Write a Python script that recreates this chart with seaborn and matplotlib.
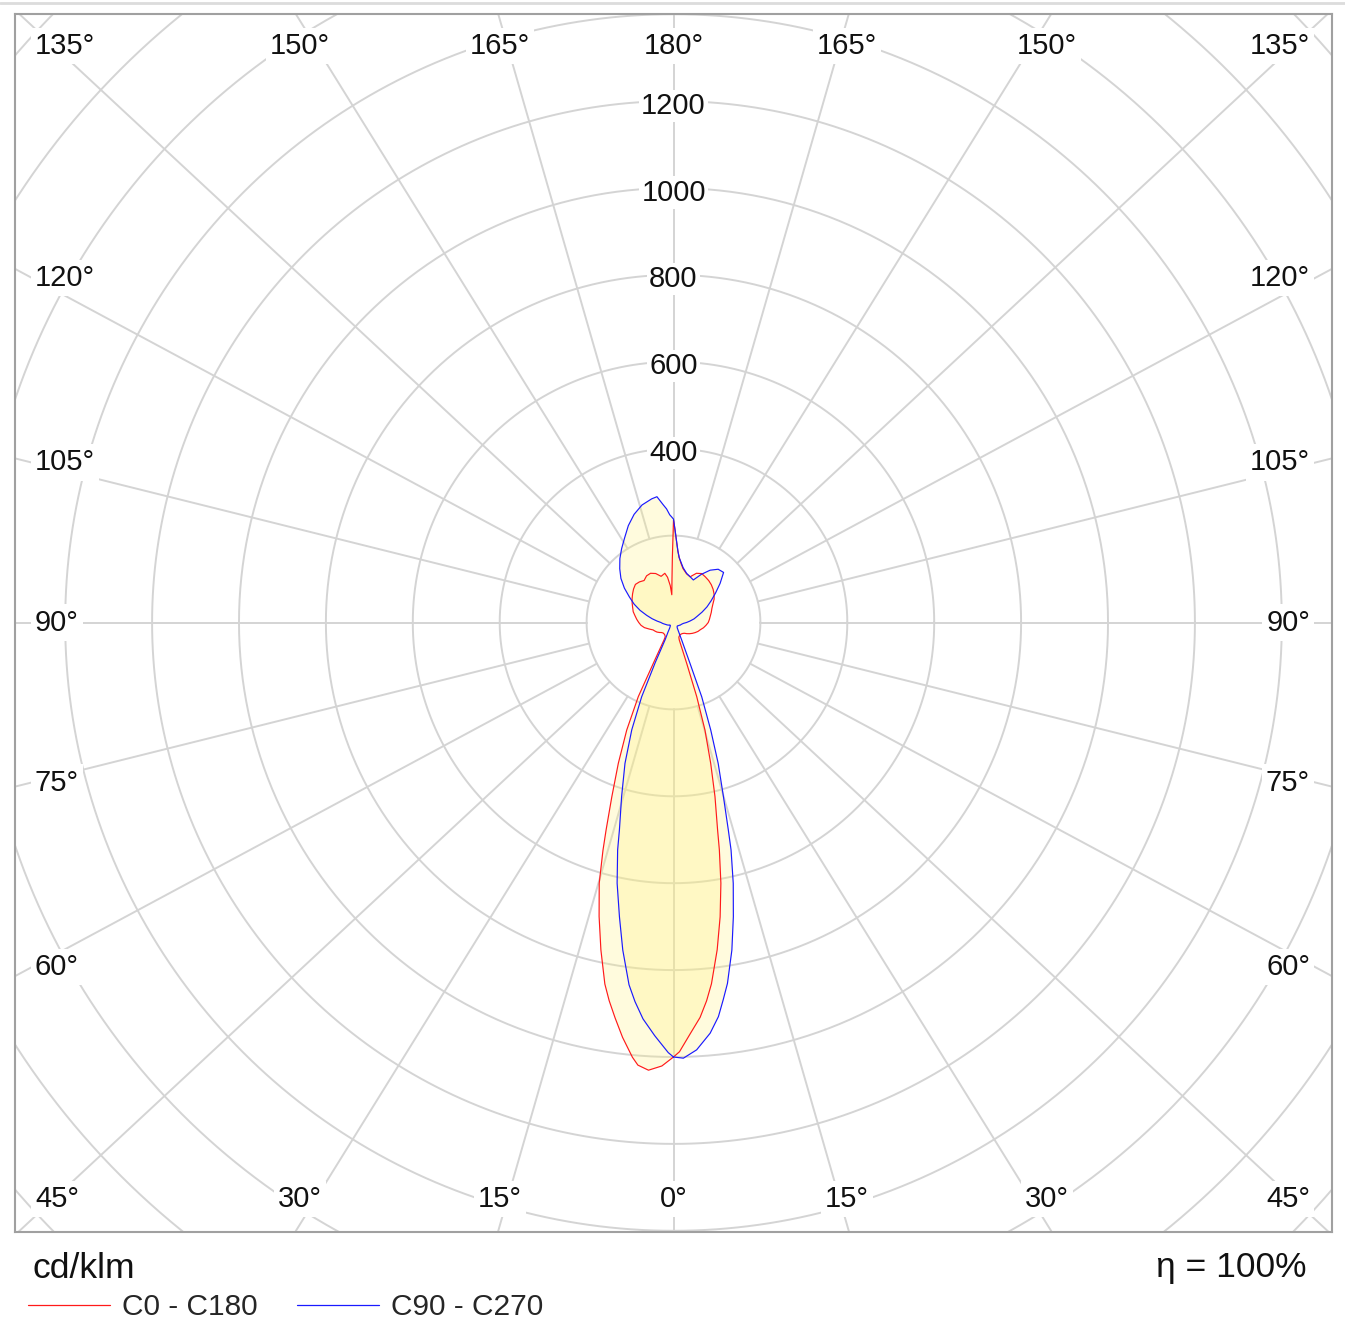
import numpy as np
import pandas as pd
import seaborn as sns
import matplotlib
matplotlib.use("Agg")
import matplotlib.pyplot as plt
from matplotlib.lines import Line2D
from matplotlib.transforms import ScaledTranslation

# Luminous intensity (cd/klm) per gamma angle
# C0 plane (right half of the red curve)
c0_gamma = [0, 0.8, 2.3, 3.85, 5.0, 6.0, 7.6, 9.0, 10.3, 11.4, 12.0, 13.4, 14.8, 16.3,
            17.4, 17.9, 18.3, 20, 25, 30, 35, 40, 45, 50, 55, 60, 65, 70, 75, 80, 85,
            90, 95, 100, 105, 110, 115, 120, 125, 130, 135, 140, 145, 150, 155, 160,
            165, 170, 172.5, 175, 176.5, 178, 179, 180]
c0 = [1000, 988, 948, 911, 874, 836, 760, 686, 610, 534, 488, 412, 335, 258,
      179, 99, 42, 36, 33, 32, 32, 33, 35, 40, 45, 50, 55, 60, 64, 70, 75,
      80, 83, 86, 90, 94, 100, 108, 114, 119, 123, 126, 128, 130, 125, 112,
      116, 126, 136, 150, 165, 190, 212, 236]

# C180 plane (left half of the red curve)
c180_gamma = [0, 1.5, 3.2, 4.6, 5.4, 7.0, 8.4, 9.65, 10.75, 12.5, 14.2, 15.9, 17.2, 18.0,
              19.5, 21.4, 23.5, 25.4, 26.3, 28.5, 30, 35, 40, 45, 50, 55, 60, 65, 70,
              75, 80, 85, 90, 95, 100, 105, 110, 115, 120, 125, 130, 135, 140, 145,
              150, 155, 160, 165, 170, 172.5, 175, 176.5, 178, 179, 180]
c180 = [1000, 1021, 1032, 1022, 1005, 962, 920, 883, 847, 772, 698, 624, 549, 502,
        425, 348, 270, 189, 105, 46, 38, 35, 34, 34, 36, 40, 44, 47, 50,
        58, 68, 75, 80, 85, 90, 96, 100, 105, 110, 115, 120, 124, 122, 118,
        124, 125, 120, 110, 115, 105, 85, 64, 100, 150, 236]

# C90 plane (right half of the blue curve)
c90_gamma = [0, 1.3, 3.1, 5.1, 6.5, 7.5, 8.5, 10.1, 11.5, 12.9, 14.2, 14.8, 16.0, 17.6,
             19.1, 20.8, 22.0, 25.1, 30, 35, 40, 45, 50, 55, 60, 65, 70, 75, 80, 85,
             90, 95, 100, 105, 110, 115, 120, 125, 130, 135, 140, 145, 150, 155, 160,
             165, 170, 172.5, 175, 176.5, 178, 179, 180]
c90 = [1000, 1003, 985, 949, 913, 876, 840, 766, 691, 616, 540, 494, 417, 340,
       262, 183, 101, 44, 22, 15, 13, 12, 12, 13, 14, 15, 17, 18, 20, 23,
       30, 38, 48, 57, 70, 85, 100, 118, 140, 163, 160, 147, 128, 108, 112,
       117, 128, 138, 150, 165, 190, 212, 238]

# C270 plane (left half of the blue curve)
c270_gamma = [0, 0.7, 2.6, 4.4, 5.8, 7.0, 8.8, 10.4, 12.2, 13.8, 14.6, 16.6, 19.0, 21.25,
              23.2, 24.5, 26, 30, 35, 40, 45, 50, 55, 60, 65, 70, 75, 80, 85, 90, 95,
              100, 105, 110, 115, 120, 125, 130, 135, 140, 145, 150, 155, 160, 165,
              170, 172.5, 175, 176.5, 178, 179, 180]
c270 = [1000, 990, 952, 915, 877, 840, 763, 689, 614, 539, 494, 418, 343, 265,
        186, 102, 43, 25, 15, 12, 10, 10, 10, 12, 14, 16, 18, 21, 25, 29, 38,
        50, 64, 82, 100, 117, 138, 158, 175, 192, 208, 225, 246, 265, 280,
        289, 292, 272, 262, 248, 243, 238]

series_names = ["C0 - C180", "C90 - C270"]
series_colors = ["#ff1a1a", "#1a1aff"]
ring_values = list(range(200, 2001, 200))
ring_labels = [400, 600, 800, 1000, 1200]
angle_ticks = list(range(0, 181, 15))
unit_label = "cd/klm"
efficiency_label = "η = 100%"

sns.set_style("white")
plt.rcParams["font.family"] = ["Liberation Sans", "DejaVu Sans"]

W_PX, H_PX = 1345, 1342
fig = plt.figure(figsize=(W_PX / 100, H_PX / 100), dpi=100)
ax = fig.add_axes([15 / W_PX, 1 - 1232 / H_PX, 1317 / W_PX, 1218 / H_PX])
ax.set_xlim(-1515.5, 1515.5)
ax.set_ylim(-1402.8, 1400.5)

grid_c = "#d4d4d4"
# rings
t = np.linspace(0, 2 * np.pi, 721)
for r in ring_values:
    ax.plot(r * np.cos(t), r * np.sin(t), color=grid_c, lw=1.4, zorder=1)

# spokes (drawn slightly stretched horizontally, as in the original)
k = 1.075
for a in range(0, 360, 15):
    ar = np.radians(a)
    d = np.array([k * np.sin(ar), -np.cos(ar)])
    d = d / np.hypot(*d)
    ax.plot([200 * d[0], 3000 * d[0]], [200 * d[1], 3000 * d[1]],
            color=grid_c, lw=1.4, zorder=1)


def loop(g_right, right, g_left, left):
    gr = np.radians(g_right)
    gl = np.radians(g_left)
    r = np.asarray(right, float)
    l = np.asarray(left, float)
    x = np.concatenate([r * np.sin(gr), -(l * np.sin(gl))[::-1]])
    y = np.concatenate([-r * np.cos(gr), (-l * np.cos(gl))[::-1]])
    return x, y


planes = [(c0_gamma, c0, c180_gamma, c180), (c90_gamma, c90, c270_gamma, c270)]
frames = []
for name, p in zip(series_names, planes):
    x, y = loop(*p)
    ax.fill(x, y, color="#fff07a", alpha=0.25, lw=0, zorder=2)
    frames.append(pd.DataFrame({"x": x, "y": y, "plane": name}))
df = pd.concat(frames, ignore_index=True)

sns.lineplot(data=df, x="x", y="y", hue="plane", palette=series_colors,
             sort=False, estimator=None, lw=0.85, legend=False, ax=ax, zorder=3)

# ring labels on the vertical axis
ring_tr = ax.transData + ScaledTranslation(0, -4.5 / 100, fig.dpi_scale_trans)
for r in ring_labels:
    ax.text(0, r, str(r), ha="center", va="center", fontsize=21, color="#111111",
            transform=ring_tr,
            bbox=dict(fc="white", ec="none", pad=1.5), zorder=4)

# angle labels around the frame
W, H = 1478, 1385
top_y, bot_y = 1326.8, -1326.8
left_x, right_x = -1469.5, 1465
for a in angle_ticks:
    for s in ([1] if a in (0, 180) else [-1, 1]):
        ar = np.radians(a)
        dx, dy = s * k * np.sin(ar), -np.cos(ar)
        tx = W / abs(dx) if abs(dx) > 1e-9 else np.inf
        ty = H / abs(dy) if abs(dy) > 1e-9 else np.inf
        lab = f"{a}°"
        kw = dict(fontsize=21, color="#111111", va="center", zorder=4,
                  bbox=dict(fc="white", ec="none", pad=3))
        if ty <= tx:
            ax.text(ty * dx, top_y if dy > 0 else bot_y, lab, ha="center", **kw)
        else:
            yy = min(max(tx * dy, bot_y), top_y)
            if dx < 0:
                ax.text(left_x, yy, lab, ha="left", **kw)
            else:
                ax.text(right_x, yy, lab, ha="right", **kw)

ax.set_xticks([])
ax.set_yticks([])
ax.set_xlabel("")
ax.set_ylabel("")
for sp in ax.spines.values():
    sp.set_color("#a0a0a0")
    sp.set_linewidth(1.5)

# thin separator at the very top of the image
fig.add_artist(Line2D([0, 1], [1 - 3 / H_PX] * 2, transform=fig.transFigure,
                      color="#dcdcdc", lw=2))

fig.text(33 / W_PX, 1 - 1268 / H_PX, unit_label, ha="left", va="center",
         fontsize=25.5, color="#111111")
fig.text(1306 / W_PX, 1 - 1268 / H_PX, efficiency_label, ha="right", va="center",
         fontsize=25.5, color="#111111")

handles = [Line2D([], [], color=c, lw=0.9) for c in series_colors]
fig.legend(handles, series_names, loc="center left",
           bbox_to_anchor=(28 / W_PX, 1 - 1307 / H_PX), ncol=2, frameon=False,
           fontsize=21.5, handlelength=2.75, handletextpad=0.4,
           columnspacing=1.3, borderpad=0, borderaxespad=0)

fig.savefig("out.png", dpi=100)
